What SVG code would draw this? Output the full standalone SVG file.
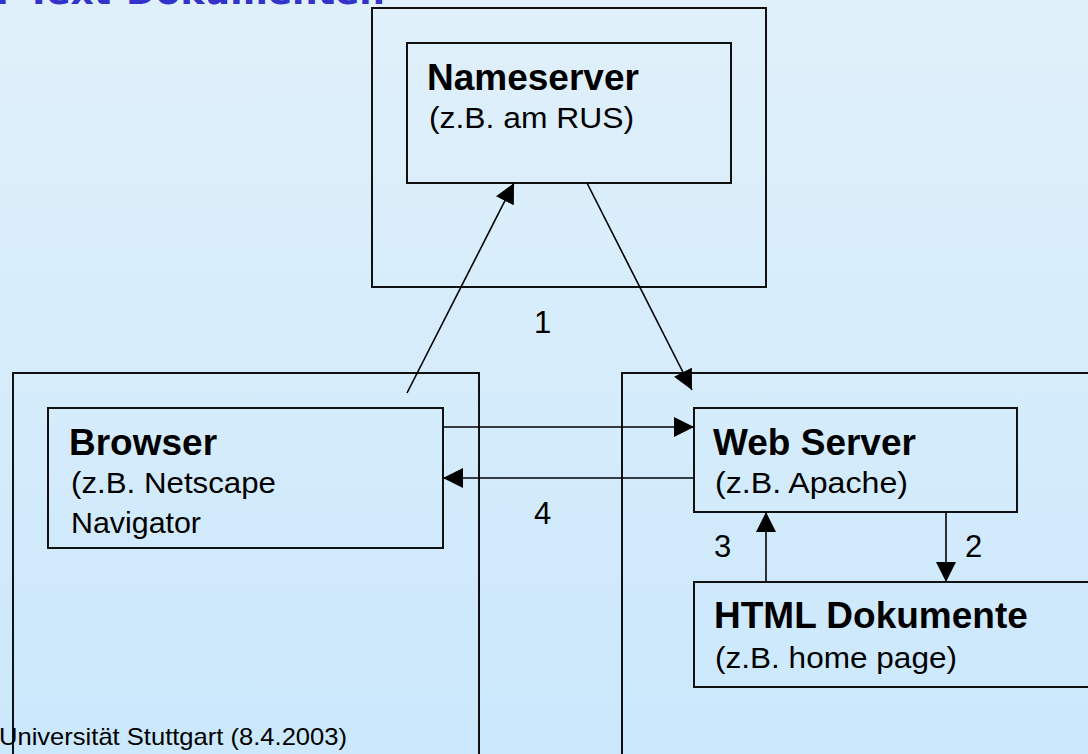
<svg xmlns="http://www.w3.org/2000/svg" width="1088" height="754" viewBox="0 0 1088 754">
  <defs>
    <linearGradient id="bg" x1="0" y1="0" x2="0" y2="1">
      <stop offset="0" stop-color="#e0f0fa"/>
      <stop offset="1" stop-color="#cbe8fc"/>
    </linearGradient>
    <marker id="arrow" markerUnits="userSpaceOnUse" markerWidth="20" markerHeight="20" refX="20" refY="10" orient="auto">
      <path d="M0,0 L20,10 L0,20 z" fill="#000"/>
    </marker>
    <style>
      .box { fill: none; stroke: #111; stroke-width: 2; }
      .conn { fill: none; stroke: #000; stroke-width: 1.6; }
      .title { font-family: "Liberation Sans", Arial, sans-serif; font-weight: bold; font-size: 37px; fill: #000; }
      .sub { font-family: "Liberation Sans", Arial, sans-serif; font-size: 30px; fill: #000; }
      .num { font-family: "Liberation Sans", Arial, sans-serif; font-size: 31px; fill: #000; }
      .heading { font-family: "DejaVu Sans", "Comic Sans MS", sans-serif; font-weight: bold; font-size: 36px; fill: #3333cc; }
      .footer { font-family: "Liberation Sans", Arial, sans-serif; font-size: 24px; fill: #000; }
    </style>
  </defs>

  <rect x="0" y="0" width="1088" height="754" fill="url(#bg)"/>

  <!-- slide heading, cut at the top edge -->
  <text class="heading" x="385" y="4" text-anchor="end">r Text-Dokumenten</text>

  <!-- client side -->
  <g id="client">
    <rect class="box" x="13" y="373" width="466" height="400"/>
  </g>
  <g id="browser">
    <rect class="box" x="48" y="408" width="395" height="140"/>
    <text class="title" x="69" y="455">Browser</text>
    <text class="sub" x="71" y="493" textLength="205" lengthAdjust="spacingAndGlyphs">(z.B. Netscape</text>
    <text class="sub" x="71" y="533" textLength="130" lengthAdjust="spacingAndGlyphs">Navigator</text>
  </g>

  <!-- name service -->
  <g id="nameserver-host">
    <rect class="box" x="372" y="8" width="394" height="279"/>
  </g>
  <g id="nameserver">
    <rect class="box" x="407" y="43" width="324" height="140"/>
    <text class="title" x="427" y="90">Nameserver</text>
    <text class="sub" x="429" y="128" textLength="205" lengthAdjust="spacingAndGlyphs">(z.B. am RUS)</text>
  </g>

  <!-- server side -->
  <g id="server-host">
    <rect class="box" x="622" y="373" width="500" height="400"/>
  </g>
  <g id="webserver">
    <rect class="box" x="694" y="408" width="323" height="104"/>
    <text class="title" x="713" y="455">Web Server</text>
    <text class="sub" x="715" y="493" textLength="193" lengthAdjust="spacingAndGlyphs">(z.B. Apache)</text>
  </g>
  <g id="documents">
    <rect class="box" x="694" y="582" width="420" height="105"/>
    <text class="title" x="714" y="628">HTML Dokumente</text>
    <text class="sub" x="715" y="668" textLength="242" lengthAdjust="spacingAndGlyphs">(z.B. home page)</text>
  </g>

  <!-- requests and responses -->
  <g id="connectors">
    <line class="conn" x1="407" y1="393" x2="514" y2="183" marker-end="url(#arrow)"/>
    <line class="conn" x1="587" y1="183" x2="692" y2="390" marker-end="url(#arrow)"/>
    <line class="conn" x1="443" y1="427" x2="694" y2="427" marker-end="url(#arrow)"/>
    <line class="conn" x1="694" y1="478" x2="443" y2="478" marker-end="url(#arrow)"/>
    <line class="conn" x1="946" y1="512" x2="946" y2="582" marker-end="url(#arrow)"/>
    <line class="conn" x1="766" y1="582" x2="766" y2="512" marker-end="url(#arrow)"/>
    <text class="num" x="534" y="333">1</text>
    <text class="num" x="965" y="557">2</text>
    <text class="num" x="714" y="557">3</text>
    <text class="num" x="534" y="524">4</text>
  </g>

  <text class="footer" x="-1" y="745" textLength="348" lengthAdjust="spacingAndGlyphs">Universität Stuttgart (8.4.2003)</text>
</svg>
